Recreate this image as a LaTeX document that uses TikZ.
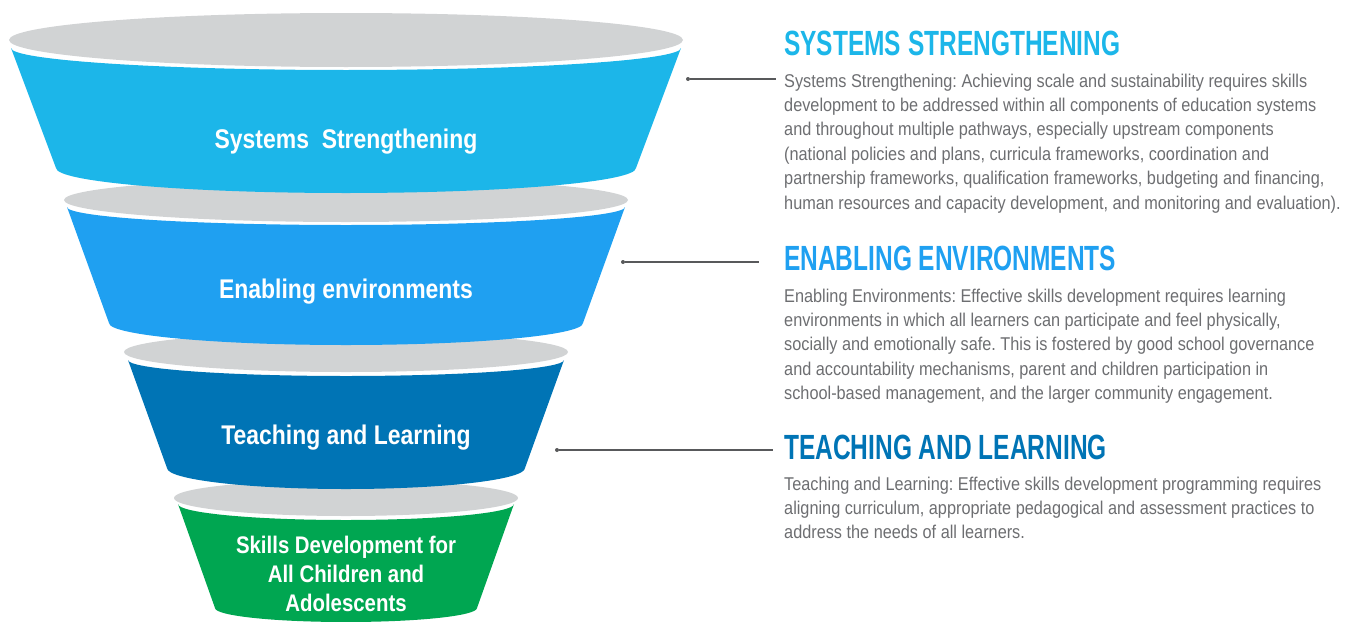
\documentclass[tikz,border=0pt]{standalone}
\usepackage{fontspec}
\setmainfont{Liberation Sans}[FakeStretch=0.88]
\newfontfamily\funnelfont{Liberation Sans}[FakeStretch=0.85]
\newfontfamily\headfont{Liberation Sans}[FakeStretch=0.70]
\definecolor{rimgray}{HTML}{D1D3D4}
\definecolor{sysblue}{HTML}{1CB6E9}
\definecolor{envblue}{HTML}{1FA0F1}
\definecolor{teachblue}{HTML}{0074B5}
\definecolor{skillgreen}{HTML}{00A651}
\definecolor{bodygray}{HTML}{6D6E71}
\definecolor{linegray}{HTML}{58595B}
\frenchspacing
\begin{document}
\begin{tikzpicture}[x=1pt, y=-1pt,
    lbl/.style={text=white, inner sep=0, align=center, font=\funnelfont\bfseries\fontsize{27}{29}\selectfont},
    head/.style={inner sep=0, anchor=base west, font=\headfont\bfseries\fontsize{35}{36}\selectfont},
    body/.style={text=bodygray, inner sep=0, anchor=north west, align=left, font=\fontsize{18.5}{24.4}\selectfont},
    dot/.style={circle, fill=linegray, inner sep=0, minimum size=4pt},
    conn/.style={linegray, line width=1.2pt}]
    \useasboundingbox (0,0) rectangle (1348,621);

    % Skills layer (bottom)
    \fill[rimgray] (346,498) ellipse [x radius=172, y radius=18];
    \fill[skillgreen] (178,504) arc[start angle=180, end angle=0, x radius=168, y radius=16]
        -- (477,608) arc[start angle=0, end angle=180, x radius=131, y radius=14] -- cycle;

    % Teaching and learning
    \fill[rimgray] (346,352) ellipse [x radius=222, y radius=20];
    \fill[teachblue] (128,360) arc[start angle=180, end angle=0, x radius=218, y radius=16]
        -- (525,468) arc[start angle=0, end angle=180, x radius=179, y radius=21] -- cycle;

    % Enabling environments
    \fill[rimgray] (346,200) ellipse [x radius=282, y radius=22];
    \fill[envblue] (67,207) arc[start angle=180, end angle=0, x radius=279, y radius=18]
        -- (583,323) arc[start angle=0, end angle=180, x radius=237, y radius=22] -- cycle;

    % Systems strengthening (top)
    \fill[rimgray] (346,40) ellipse [x radius=337, y radius=27];
    \fill[sysblue] (11,48) arc[start angle=180, end angle=0, x radius=335, y radius=22]
        -- (636,168) arc[start angle=0, end angle=180, x radius=290, y radius=25] -- cycle;

    % Funnel labels
    \node[lbl, anchor=base] (syslbl) at (346,148) {Systems\ \ Strengthening};
    \node[lbl, anchor=base] (envlbl) at (346,298) {Enabling environments};
    \node[lbl, anchor=base] (teachlbl) at (346,444) {Teaching and Learning};
    \node[lbl, anchor=north, font=\funnelfont\bfseries\fontsize{24}{29}\selectfont] (skilllbl) at (346,536)
        {Skills Development for\\All Children and\\Adolescents};

    % Descriptions
    \node[head, text=sysblue] (syshead) at (784,55) {SYSTEMS STRENGTHENING};
    \node[body] (sysbody) at (784,73.5) {Systems Strengthening: Achieving scale and sustainability requires skills\\
        development to be addressed within all components of education systems\\
        and throughout multiple pathways, especially upstream components\\
        (national policies and plans, curricula frameworks, coordination and\\
        partnership frameworks, qualification frameworks, budgeting and financing,\\
        human resources and capacity development, and monitoring and evaluation).};

    \node[head, text=envblue] (envhead) at (784,270) {ENABLING ENVIRONMENTS};
    \node[body] (envbody) at (784,288.5) {Enabling Environments: Effective skills development requires learning\\
        environments in which all learners can participate and feel physically,\\
        socially and emotionally safe. This is fostered by good school governance\\
        and accountability mechanisms, parent and children participation in\\
        school-based management, and the larger community engagement.};

    \node[head, text=teachblue] (teachhead) at (784,459) {TEACHING AND LEARNING};
    \node[body] (teachbody) at (784,476.5) {Teaching and Learning: Effective skills development programming requires\\
        aligning curriculum, appropriate pedagogical and assessment practices to\\
        address the needs of all learners.};

    % Leader lines
    \node[dot] (sysdot) at (688,79) {};
    \coordinate (sysend) at (776,79);
    \draw[conn] (sysdot) -- (sysend);
    \node[dot] (envdot) at (623,262) {};
    \coordinate (envend) at (759,262);
    \draw[conn] (envdot) -- (envend);
    \node[dot] (teachdot) at (557,450) {};
    \coordinate (teachend) at (773,450);
    \draw[conn] (teachdot) -- (teachend);
\end{tikzpicture}
\end{document}
